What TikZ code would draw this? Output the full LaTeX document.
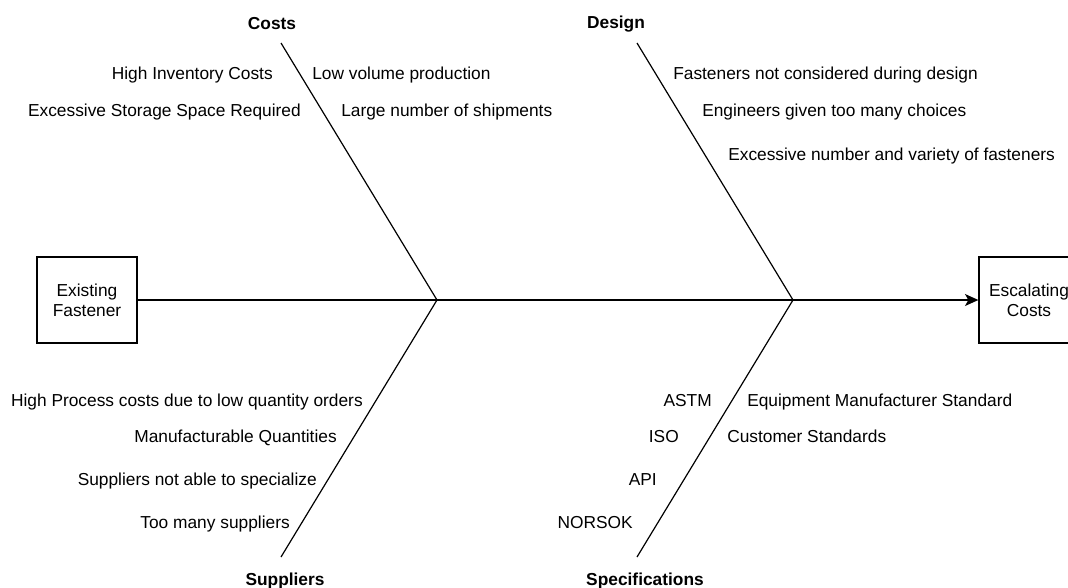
\documentclass[tikz,border=0pt]{standalone}
\usepackage{fontspec}
\setmainfont{Liberation Sans}
\usepackage{tikz}
\usetikzlibrary{arrows.meta}
\newcommand{\bonefont}{\fontsize{13}{15}\selectfont}
\tikzstyle{causebox} = [draw=black, line width=1pt, rectangle, minimum width=75pt, minimum height=64.5pt, align=center, inner sep=2pt, text depth=0pt]
\tikzstyle{bone} = [draw=black, line width=0.9pt]
\tikzstyle{heading} = [font=\bonefont\bfseries, inner sep=0pt, yshift=-1.5pt]
\tikzstyle{reasonL} = [anchor=mid east, inner sep=0pt, yshift=-2.2pt]
\tikzstyle{reasonR} = [anchor=mid west, inner sep=0pt, yshift=-2.2pt]

\begin{document}
\begin{tikzpicture}[x=0.75pt, y=-0.75pt, font=\bonefont]
\useasboundingbox (0,0) rectangle (1068,587);

% head and tail of the fish
\node[causebox] (fastener) at (87,300) {Existing\\Fastener};
\node[causebox] (result) at (1029,300) {Escalating\\Costs};
\coordinate (joint1) at (437,300);
\coordinate (joint2) at (793,300);
\draw[bone, -{Stealth[length=10pt, width=9pt, inset=2.5pt]}] (fastener) -- (result);

% upper bones
\coordinate (costsend) at (281,43);
\coordinate (designend) at (637,43);
\draw[bone] (costsend) -- (joint1);
\draw[bone] (designend) -- (joint2);
\node[heading] (costs) at (272,22) {Costs};
\node[heading] (design) at (616,22) {Design};

\node[reasonL] (inventory) at (273,73) {High Inventory Costs};
\node[reasonR] (lowvolume) at (312,73) {Low volume production};
\node[reasonL] (storage) at (301,110) {Excessive Storage Space Required};
\node[reasonR] (shipments) at (341,110) {Large number of shipments};

\node[reasonR] (notconsidered) at (673,73) {Fasteners not considered during design};
\node[reasonR] (choices) at (702,110) {Engineers given too many choices};
\node[reasonR] (variety) at (728,154) {Excessive number and variety of fasteners};

% lower bones
\coordinate (suppend) at (281,557);
\coordinate (specend) at (637,557);
\draw[bone] (suppend) -- (joint1);
\draw[bone] (specend) -- (joint2);
\node[heading] (suppliers) at (285,579) {Suppliers};
\node[heading] (specs) at (645,579) {Specifications};

\node[reasonL] (processcosts) at (363,400) {High Process costs due to low quantity orders};
\node[reasonL] (quantities) at (337,436) {Manufacturable Quantities};
\node[reasonL] (specialize) at (317,479) {Suppliers not able to specialize};
\node[reasonL] (toomany) at (290,522) {Too many suppliers};

\node[reasonL] (astm) at (712,400) {ASTM};
\node[reasonR] (oemstd) at (747,400) {Equipment Manufacturer Standard};
\node[reasonL] (iso) at (679,436) {ISO};
\node[reasonR] (custstd) at (727,436) {Customer Standards};
\node[reasonL] (api) at (657,479) {API};
\node[reasonL] (norsok) at (633,522) {NORSOK};
\end{tikzpicture}
\end{document}
